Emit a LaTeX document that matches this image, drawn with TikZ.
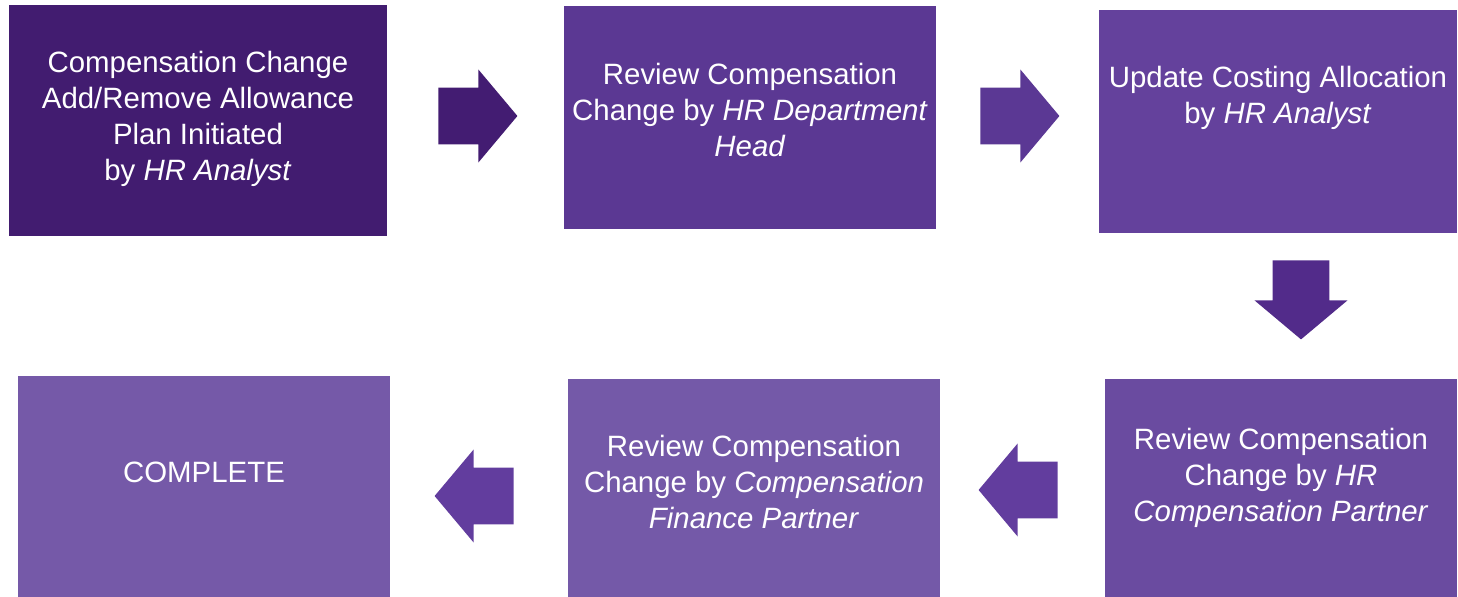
\documentclass[tikz,border=0pt]{standalone}
\usepackage{fontspec}
\setmainfont{Liberation Sans}
\usetikzlibrary{shapes.arrows}
\definecolor{StepA}{HTML}{421C70}
\definecolor{StepB}{HTML}{5B3893}
\definecolor{StepC}{HTML}{64419C}
\definecolor{StepD}{HTML}{6A4BA0}
\definecolor{StepE}{HTML}{7459A8}
\definecolor{StepF}{HTML}{7559A8}
\definecolor{FlowA}{HTML}{431C72}
\definecolor{FlowB}{HTML}{5B3894}
\definecolor{FlowC}{HTML}{522B8A}
\definecolor{FlowD}{HTML}{623D9E}

\begin{document}
\begin{tikzpicture}[x=0.5pt,y=-0.5pt,box/.style={fill=#1,text=white,inner sep=0pt,align=center,font=\fontsize{14.7pt}{18pt}\selectfont},blk/.style={single arrow,fill=#1,inner xsep=0pt,inner ysep=14pt,single arrow head extend=9pt,single arrow tip angle=100,minimum width=0pt,minimum height=39.5pt}]
\path[use as bounding box](0,0) rectangle (1458,597);
% top row, left to right
\node[box=StepA,minimum width=189pt,minimum height=115.5pt,text depth=4.5pt](init) at (198,120.5){Compensation Change\\Add/Remove Allowance\\Plan Initiated\\by \textit{HR Analyst}};
\node[box=StepB,minimum width=186pt,minimum height=111.5pt,text depth=8pt](head) at (750,117.5){Review Compensation\\Change by \textit{HR Department}\\\textit{Head}};
\node[box=StepC,minimum width=179pt,minimum height=111.5pt,text depth=26.5pt](cost) at (1278,121.5){Update Costing Allocation\\by \textit{HR Analyst}};
% bottom row, right to left
\node[box=StepD,minimum width=176pt,minimum height=109pt,text depth=13pt](hrcp) at (1281,488){Review Compensation\\Change by \textit{HR}\\\textit{Compensation Partner}};
\node[box=StepE,minimum width=186pt,minimum height=109pt,text depth=6pt](cfp) at (754,488){Review Compensation\\Change by \textit{Compensation}\\\textit{Finance Partner}};
\node[box=StepF,minimum width=186pt,minimum height=110.5pt,text depth=14.5pt](done) at (204,486.5){COMPLETE};
% block arrows between the steps
\node[blk=FlowA,anchor=tail](a1) at (438,116){};
\node[blk=FlowB,anchor=tail](a2) at (980,116){};
\node[blk=FlowC,anchor=tail,rotate=-90](a3) at (1301,260){};
\node[blk=FlowD,anchor=tail,rotate=180](a4) at (1058,490){};
\node[blk=FlowD,anchor=tail,rotate=180](a5) at (514,496){};
\end{tikzpicture}
\end{document}
